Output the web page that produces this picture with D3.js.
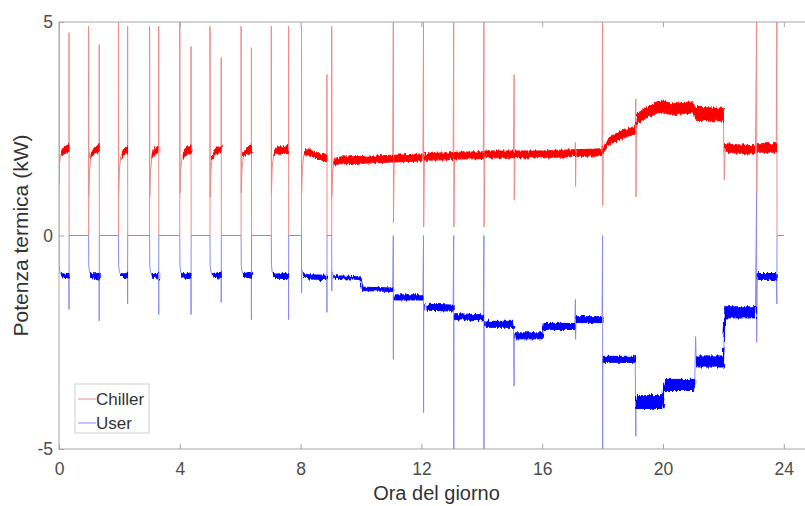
<!DOCTYPE html>
<html>
<head>
<meta charset="utf-8">
<script src="https://cdnjs.cloudflare.com/ajax/libs/d3/7.8.5/d3.min.js"></script>
<style>
  body { margin: 0; background: #fff; }
  svg { display: block; font-family: "Liberation Sans", Arial, Helvetica, sans-serif; }
</style>
</head>
<body>
<div id="chart"></div>
<script>
// tick labels and series names
const xTicks = [0, 4, 8, 12, 16, 20, 24];
const yTicks = [-5, 0, 5];
const seriesNames = ["Chiller", "User"];

// [ora, kW, rumore (mezza banda, kW)]
const chillerMorning = [
  [0.0, 0, 0], [0.0, 5.0, 0], [0.005, 1.2, 0], [0.02, 1.7, 0], [0.06, 1.9, 0.05], [0.15, 2.0, 0.07], [0.33, 2.05, 0.08], [0.332, 4.75, 0], [0.335, 0, 0],
  [0.98, 0, 0], [0.98, 4.9, 0], [0.985, 0.9, 0], [1.01, 1.5, 0], [1.06, 1.85, 0.05], [1.16, 1.98, 0.07], [1.33, 2.05, 0.08], [1.332, 4.47, 0], [1.335, 0, 0],
  [1.97, 0, 0], [1.97, 5.0, 0], [1.975, 1.0, 0], [2.0, 1.55, 0], [2.05, 1.85, 0.05], [2.14, 1.95, 0.07], [2.27, 2.0, 0.08], [2.272, 4.9, 0], [2.275, 0, 0],
  [3.0, 0, 0], [3.0, 4.9, 0], [3.005, 0.9, 0], [3.03, 1.5, 0], [3.08, 1.85, 0.05], [3.17, 1.97, 0.07], [3.3, 2.02, 0.08], [3.302, 4.9, 0], [3.305, 0, 0],
  [4.0, 0, 0], [4.0, 5.0, 0], [4.005, 1.0, 0], [4.03, 1.55, 0], [4.08, 1.85, 0.05], [4.18, 1.97, 0.07], [4.37, 2.02, 0.08], [4.372, 4.43, 0], [4.375, 0, 0],
  [5.0, 0, 0], [5.0, 4.9, 0], [5.005, 0.9, 0], [5.03, 1.5, 0], [5.08, 1.85, 0.05], [5.18, 1.97, 0.07], [5.37, 2.02, 0.08], [5.372, 4.17, 0], [5.375, 0, 0],
  [6.03, 0, 0], [6.03, 4.9, 0], [6.035, 1.0, 0], [6.06, 1.55, 0], [6.11, 1.88, 0.05], [6.2, 1.98, 0.07], [6.37, 2.02, 0.08], [6.372, 4.4, 0], [6.375, 0, 0],
  [7.03, 0, 0], [7.03, 4.9, 0], [7.035, 1.0, 0], [7.06, 1.6, 0], [7.11, 1.9, 0.05], [7.2, 2.0, 0.07], [7.6, 2.0, 0.08], [7.602, 4.9, 0], [7.605, 0, 0],
  [8.03, 0, 0], [8.03, 4.9, 0], [8.035, 1.0, 0], [8.06, 1.6, 0], [8.11, 1.9, 0.05], [8.25, 1.97, 0.07], [8.5, 1.88, 0.07], [8.87, 1.8, 0.07], [8.872, 3.77, 0], [8.875, 0, 0]
];

const chillerDay = [
  [9.03, 0, 0], [9.03, 4.9, 0], [9.035, 0.9, 0], [9.06, 1.5, 0], [9.1, 1.7, 0.05], [9.3, 1.76, 0.08], [10.0, 1.77, 0.08], [11.05, 1.8, 0.08],
  [11.07, 5.0, 0], [11.075, 0.3, 0], [11.1, 1.8, 0.08], [12.05, 1.83, 0.08],
  [12.07, 5.0, 0], [12.075, 0.2, 0], [12.1, 1.84, 0.08], [13.05, 1.86, 0.08],
  [13.07, 5.0, 0], [13.075, 0.2, 0], [13.1, 1.87, 0.08], [14.05, 1.88, 0.08],
  [14.07, 5.0, 0], [14.075, 0.2, 0], [14.1, 1.9, 0.08], [15.05, 1.9, 0.08],
  [15.07, 3.77, 0], [15.075, 0.84, 0], [15.1, 1.9, 0.08], [16.0, 1.9, 0.08], [17.08, 1.93, 0.08],
  [17.1, 2.18, 0], [17.105, 1.15, 0], [17.12, 1.93, 0.08], [17.98, 1.95, 0.08],
  [18.0, 5.0, 0], [18.005, 0.7, 0], [18.02, 2.0, 0.06], [18.2, 2.2, 0.08], [18.5, 2.32, 0.09], [19.0, 2.45, 0.09], [19.08, 2.5, 0.09],
  [19.1, 3.2, 0], [19.105, 0.9, 0], [19.12, 2.72, 0.12], [19.4, 2.85, 0.13], [19.8, 3.0, 0.13], [20.0, 3.02, 0.13], [20.3, 2.95, 0.13], [20.6, 2.98, 0.13], [21.0, 3.0, 0.13],
  [21.05, 2.85, 0.15], [22.0, 2.83, 0.15],
  [22.03, 1.3, 0], [22.06, 2.05, 0.1], [23.06, 2.0, 0.1],
  [23.1, 5.0, 0], [23.105, 1.0, 0], [23.12, 2.05, 0.1], [23.75, 2.05, 0.1],
  [23.77, 5.0, 0], [23.775, 0, 0], [24.0, 0, 0]
];

const userMorning = [
  [0.0, 0, 0], [0.005, -0.7, 0], [0.03, -0.85, 0], [0.08, -0.92, 0.03], [0.18, -0.95, 0.05], [0.33, -0.95, 0.07], [0.332, -1.73, 0], [0.335, 0, 0],
  [0.98, 0, 0], [0.985, -0.7, 0], [1.01, -0.85, 0], [1.06, -0.92, 0.03], [1.16, -0.95, 0.05], [1.33, -0.95, 0.07], [1.332, -2.0, 0], [1.335, 0, 0],
  [1.97, 0, 0], [1.975, -0.7, 0], [2.0, -0.85, 0], [2.05, -0.92, 0.03], [2.14, -0.95, 0.05], [2.27, -0.95, 0.07], [2.272, -1.6, 0], [2.275, 0, 0],
  [3.0, 0, 0], [3.005, -0.7, 0], [3.03, -0.85, 0], [3.08, -0.92, 0.03], [3.17, -0.95, 0.05], [3.3, -0.95, 0.07], [3.302, -1.85, 0], [3.305, 0, 0],
  [4.0, 0, 0], [4.005, -0.7, 0], [4.03, -0.85, 0], [4.08, -0.92, 0.03], [4.18, -0.95, 0.05], [4.37, -0.95, 0.07], [4.372, -1.85, 0], [4.375, 0, 0],
  [5.0, 0, 0], [5.005, -0.7, 0], [5.03, -0.85, 0], [5.08, -0.92, 0.03], [5.18, -0.93, 0.05], [5.37, -0.93, 0.07], [5.372, -1.57, 0], [5.375, 0, 0],
  [6.03, 0, 0], [6.035, -0.7, 0], [6.06, -0.85, 0], [6.11, -0.92, 0.03], [6.2, -0.93, 0.05], [6.37, -0.93, 0.07], [6.372, -1.97, 0], [6.375, 0, 0],
  [7.03, 0, 0], [7.035, -0.7, 0], [7.06, -0.85, 0], [7.11, -0.92, 0.03], [7.2, -0.95, 0.05], [7.6, -0.95, 0.06], [7.602, -1.97, 0], [7.605, 0, 0],
  [8.03, 0, 0], [8.032, -1.34, 0], [8.04, -0.8, 0], [8.1, -0.92, 0.03], [8.25, -0.97, 0.05], [8.87, -0.98, 0.05], [8.872, -1.8, 0], [8.875, 0, 0]
];

const userDay = [
  [9.03, 0, 0], [9.032, -1.3, 0], [9.04, -0.85, 0], [9.1, -0.97, 0.03], [10.0, -1.0, 0.03],
  [10.05, -1.25, 0.04], [11.05, -1.27, 0.04],
  [11.07, 0, 0], [11.072, -2.9, 0], [11.075, -1.4, 0], [11.1, -1.45, 0.06], [12.05, -1.45, 0.06],
  [12.07, 0, 0], [12.072, -4.15, 0], [12.075, -1.6, 0], [12.15, -1.68, 0.07], [13.05, -1.7, 0.07],
  [13.07, 0, 0], [13.072, -5.0, 0], [13.075, -1.85, 0], [13.1, -1.9, 0.07], [14.05, -1.93, 0.07],
  [14.07, 0, 0], [14.072, -5.0, 0], [14.075, -2.05, 0], [14.1, -2.08, 0.07], [15.05, -2.08, 0.07],
  [15.07, -3.53, 0], [15.075, -2.3, 0], [15.1, -2.35, 0.07], [16.0, -2.35, 0.07],
  [16.03, -2.13, 0.07], [17.08, -2.13, 0.07],
  [17.1, -1.5, 0], [17.105, -2.43, 0], [17.12, -1.97, 0.07], [17.98, -1.97, 0.07],
  [18.0, 0, 0], [18.002, -5.0, 0], [18.005, -2.85, 0], [18.02, -2.9, 0.07], [19.08, -2.9, 0.07],
  [19.1, -4.7, 0], [19.105, -3.8, 0], [19.12, -3.9, 0.15], [20.0, -3.9, 0.15],
  [20.05, -3.5, 0.13], [21.05, -3.5, 0.13],
  [21.08, -2.37, 0], [21.1, -2.95, 0.13], [22.0, -2.95, 0.13],
  [22.05, -1.8, 0.13], [23.06, -1.8, 0.13],
  [23.1, 1.0, 0], [23.102, -2.5, 0], [23.12, -0.96, 0.07], [23.75, -0.96, 0.07],
  [23.77, -1.6, 0], [23.775, 0, 0], [24.0, 0, 0]
];

const width = 805;
const height = 506;

const xScale = d3.scaleLinear().domain([0, 25]).range([59, 814]);
const yScale = d3.scaleLinear().domain([-5, 5]).range([449, 22]);

const svg = d3.select("#chart")
  .append("svg")
    .attr("width", width)
    .attr("height", height);

const defs = svg.append("defs");

defs.append("clipPath")
    .attr("id", "plotClip")
  .append("rect")
    .attr("x", xScale(0))
    .attr("y", yScale(5))
    .attr("width", xScale(25) - xScale(0))
    .attr("height", yScale(-5) - yScale(5));

// ragged edges for the noisy bands
const rough = defs.append("filter")
  .attr("id", "rough")
  .attr("x", "-2%").attr("y", "-20%")
  .attr("width", "104%").attr("height", "140%");
rough.append("feTurbulence")
  .attr("type", "fractalNoise")
  .attr("baseFrequency", "0.6 0.08")
  .attr("numOctaves", 2)
  .attr("seed", 3)
  .attr("result", "noise");
rough.append("feDisplacementMap")
  .attr("in", "SourceGraphic")
  .attr("in2", "noise")
  .attr("scale", 5)
  .attr("xChannelSelector", "R")
  .attr("yChannelSelector", "G");

const series = [
  { name: seriesNames[0], data: chillerMorning.concat(chillerDay), pale: "#ee8a8a", strong: "#ff0000" },
  { name: seriesNames[1], data: userMorning.concat(userDay), pale: "#8a8aee", strong: "#0000ff" }
];

const line = d3.line()
  .x(d => xScale(d[0]))
  .y(d => yScale(d[1]));

// noise band around the trace
const band = d3.area()
  .defined(d => d[2] > 0)
  .x(d => xScale(d[0]))
  .y0(d => yScale(d[1] - d[2]))
  .y1(d => yScale(d[1] + d[2]));

const plot = svg.append("g").attr("clip-path", "url(#plotClip)");

series.forEach(s => {
  plot.append("path")
    .datum(s.data)
    .attr("d", line)
    .attr("fill", "none")
    .attr("stroke", s.pale)
    .attr("stroke-width", 1);
  plot.append("g")
      .attr("filter", "url(#rough)")
    .append("path")
      .datum(s.data)
      .attr("d", band)
      .attr("fill", s.strong)
      .attr("stroke", s.strong)
      .attr("stroke-width", 1)
      .attr("stroke-linejoin", "round");
});

// box
svg.append("rect")
  .attr("x", xScale(0))
  .attr("y", yScale(5))
  .attr("width", xScale(25) - xScale(0))
  .attr("height", yScale(-5) - yScale(5))
  .attr("fill", "none")
  .attr("stroke", "#a6a6a6")
  .attr("stroke-width", 1);

const xAxis = d3.axisBottom(xScale)
  .tickValues(xTicks)
  .tickFormat(d => String(d))
  .tickSize(-5)
  .tickPadding(14);

const gx = svg.append("g")
  .attr("transform", `translate(0, ${yScale(-5)})`)
  .call(xAxis);

const gxTop = svg.append("g")
  .attr("transform", `translate(0, ${yScale(5)})`)
  .call(d3.axisTop(xScale).tickValues(xTicks).tickSize(-5).tickFormat(""));

const gy = svg.append("g")
  .attr("transform", `translate(${xScale(0)}, 0)`)
  .call(d3.axisLeft(yScale).tickValues(yTicks).tickFormat(d => String(d)).tickSize(-5).tickPadding(6));

[gx, gxTop, gy].forEach(g => {
  g.select(".domain").remove();
  g.selectAll(".tick line").attr("stroke", "#a6a6a6");
  g.selectAll(".tick text")
    .attr("fill", "#4d4d4d")
    .style("font-size", "17.5px")
    .style("font-family", "'Liberation Sans', Arial, sans-serif");
});

svg.append("text")
  .attr("x", (xScale(0) + xScale(25)) / 2)
  .attr("y", 500)
  .attr("text-anchor", "middle")
  .attr("fill", "#333")
  .style("font-size", "20px")
  .text("Ora del giorno");

svg.append("text")
  .attr("transform", `translate(28, ${yScale(0)}) rotate(-90)`)
  .attr("text-anchor", "middle")
  .attr("fill", "#333")
  .style("font-size", "21px")
  .text("Potenza termica (kW)");

// legend
const legend = svg.append("g").attr("transform", "translate(75, 384)");

legend.append("rect")
  .attr("width", 74)
  .attr("height", 49)
  .attr("fill", "#fff")
  .attr("stroke", "#cfcfcf");

series.forEach((s, i) => {
  const row = legend.append("g").attr("transform", `translate(0, ${15 + i * 24})`);
  row.append("line")
    .attr("x1", 3)
    .attr("x2", 21)
    .attr("stroke", s.pale)
    .attr("stroke-width", 1);
  row.append("text")
    .attr("x", 21)
    .attr("dy", "0.35em")
    .attr("fill", "#333")
    .style("font-size", "17px")
    .text(s.name);
});
</script>
</body>
</html>
